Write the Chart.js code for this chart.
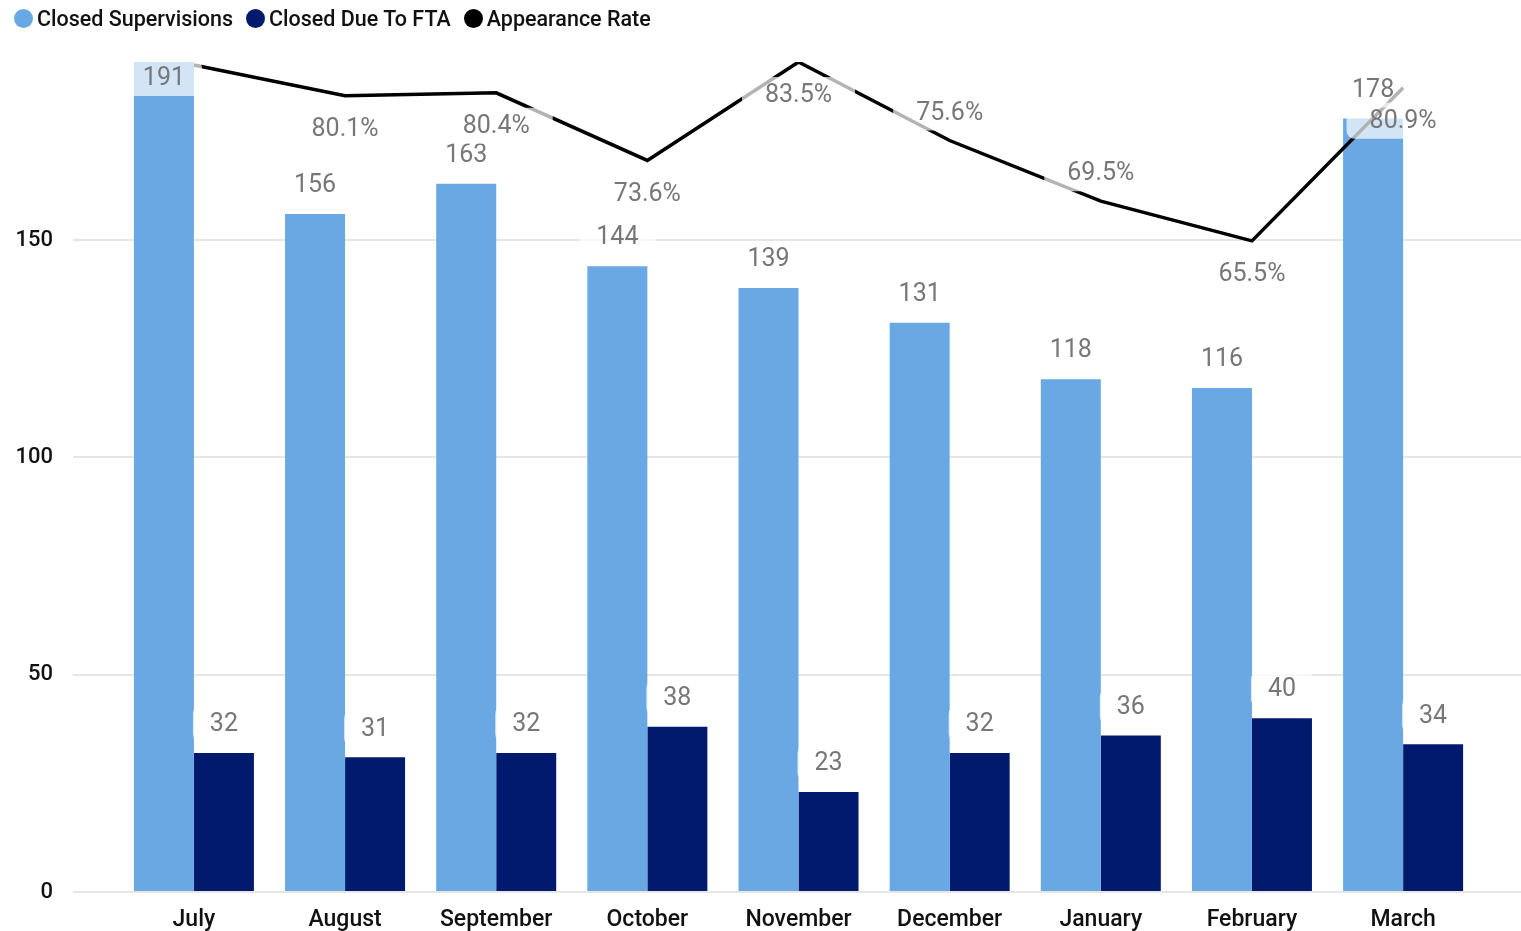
<!DOCTYPE html>
<html>
<head>
<meta charset="utf-8">
<script src="https://cdn.jsdelivr.net/npm/chart.js@4"></script>
<style>
  html, body { margin: 0; padding: 0; background: #fff; }
  #wrap { position: relative; width: 1521px; height: 931px; }
  #legend {
    position: absolute; left: 14px; top: 0; height: 36px;
    display: flex; align-items: center;
    font-family: Roboto, sans-serif; font-size: 21.5px; font-weight: 500; color: #111;
  }
  #legend .item { display: flex; align-items: center; margin-right: 13px; }
  #legend .dot { width: 19px; height: 19px; border-radius: 50%; margin-right: 4px; }
</style>
</head>
<body>
<div id="wrap">
  <canvas id="chart" width="1521" height="931"></canvas>
  <div id="legend"></div>
</div>
<script>
// --- data ---
const months = ['July', 'August', 'September', 'October', 'November', 'December', 'January', 'February', 'March'];
const closedSupervisions = [191, 156, 163, 144, 139, 131, 118, 116, 178];
const closedDueToFTA = [32, 31, 32, 38, 23, 32, 36, 40, 34];
const appearanceRate = [83.2, 80.1, 80.4, 73.6, 83.5, 75.6, 69.5, 65.5, 80.9];

// where the rate label sits relative to its point (July's is hidden in the original)
const rateLabelPos = ['none', 'below', 'below', 'below', 'below', 'above', 'above', 'below', 'below'];

const FONT = 'Roboto, sans-serif';

/* --- Data labels with translucent boxes --- */
const valueLabels = {
    id: 'valueLabels',
    afterDatasetsDraw(chart) {
        const ctx = chart.ctx;
        const area = chart.chartArea;
        const boxH = 36;
        ctx.save();
        ctx.font = '25px ' + FONT;
        ctx.textAlign = 'center';
        ctx.textBaseline = 'middle';
        chart.data.datasets.forEach((ds, di) => {
            const meta = chart.getDatasetMeta(di);
            meta.data.forEach((el, i) => {
                let text, cy, pad;
                if (ds.type === 'line') {
                    const pos = rateLabelPos[i];
                    if (pos === 'none') return;
                    text = ds.data[i].toFixed(1) + '%';
                    cy = pos === 'above' ? el.y - 28 : el.y + 33;
                    pad = 23;
                } else {
                    text = String(ds.data[i]);
                    cy = el.y - 29;
                    if (cy - boxH / 2 < area.top) cy = el.y + 16; // no room above: put it inside
                    pad = 17;
                }
                const w = ctx.measureText(text).width + pad * 2;
                ctx.fillStyle = 'rgba(255,255,255,0.7)';
                ctx.beginPath();
                ctx.roundRect(el.x - w / 2, cy - boxH / 2, w, boxH, 8);
                ctx.fill();
                ctx.fillStyle = '#777';
                ctx.fillText(text, el.x, cy + 1);
            });
        });
        ctx.restore();
    }
};

const chart = new Chart(document.getElementById('chart'), {
    type: 'bar',
    data: {
        labels: months,
        datasets: [
            {
                label: 'Closed Supervisions',
                data: closedSupervisions,
                backgroundColor: '#69A8E3',
                categoryPercentage: 0.794,
                barPercentage: 1.0,
                order: 1
            },
            {
                label: 'Closed Due To FTA',
                data: closedDueToFTA,
                backgroundColor: '#011A6E',
                categoryPercentage: 0.794,
                barPercentage: 1.0,
                order: 1
            },
            {
                type: 'line',
                label: 'Appearance Rate',
                data: appearanceRate,
                yAxisID: 'y2',
                borderColor: '#000',
                backgroundColor: '#000',
                borderWidth: 3.5,
                pointRadius: 0,
                tension: 0,
                order: 0
            }
        ]
    },
    options: {
        responsive: false,
        animation: false,
        layout: { padding: { top: 62, right: 0, bottom: 0, left: 0 } },
        plugins: {
            legend: { display: false },
            tooltip: { enabled: false }
        },
        scales: {
            x: {
                offset: true,
                grid: { display: false, drawTicks: false },
                border: { display: false },
                ticks: { font: { family: FONT, size: 23, weight: 500 }, color: '#111', padding: 14 },
                // extra room on both sides like the original visual
                afterBuildTicks(scale) {
                    scale._startValue -= 0.30;
                    scale._valueRange += 0.58;
                },
                afterFit(scale) { scale.height = 39; }
            },
            y: {
                min: 0,
                max: Math.max(...closedSupervisions),
                grid: { color: '#e6e6e6', lineWidth: 2, drawTicks: false },
                border: { display: false },
                ticks: {
                    stepSize: 50,
                    includeBounds: false,
                    padding: 20,
                    font: { family: FONT, size: 22, weight: 500 },
                    color: '#111'
                },
                afterFit(scale) { scale.width = 73; }
            },
            y2: {
                display: false,
                min: 0,
                max: Math.max(...appearanceRate)
            }
        }
    },
    plugins: [valueLabels]
});

/* --- HTML legend --- */
const legendEl = document.getElementById('legend');
chart.data.datasets.forEach(ds => {
    const item = document.createElement('div');
    item.className = 'item';
    const dot = document.createElement('span');
    dot.className = 'dot';
    dot.style.background = ds.backgroundColor;
    const label = document.createElement('span');
    label.innerText = ds.label;
    item.appendChild(dot);
    item.appendChild(label);
    legendEl.appendChild(item);
});
</script>
</body>
</html>
